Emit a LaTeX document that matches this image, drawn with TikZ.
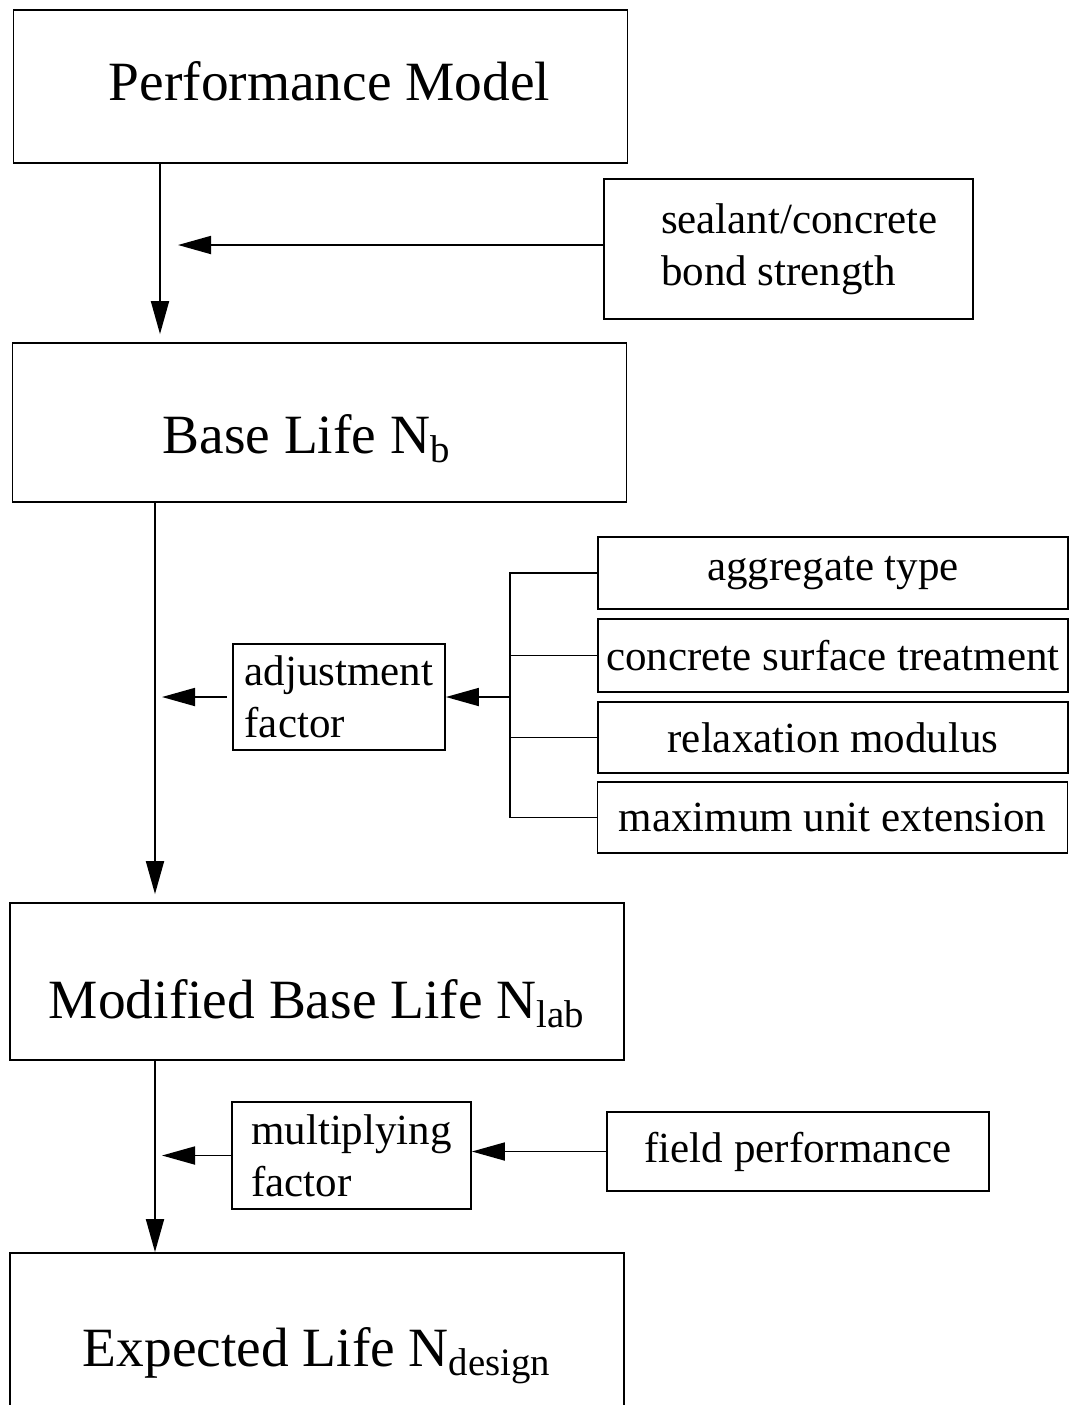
\documentclass[tikz,border=0pt]{standalone}
\usepackage{fontspec}
\setmainfont{Liberation Serif}
\usepackage{tikz}
\usetikzlibrary{arrows.meta}
\tikzset{
    mainbox/.style={draw, inner sep=0pt, minimum width=307pt, text depth=0pt, font=\fontsize{27.7}{33}\selectfont},
    factorbox/.style={draw, inner sep=0pt, align=left, font=\fontsize{21.5}{26}\selectfont},
    inputbox/.style={draw, inner sep=0pt, minimum width=235pt, minimum height=36pt, font=\fontsize{21.5}{26}\selectfont}}

\begin{document}
\begin{tikzpicture}[x=0.5pt, y=-0.5pt, line width=0.9pt, >={Triangle[length=16.5pt, width=9pt]}]
        \useasboundingbox (0,0) rectangle (1070,1405);
        \clip (0,0) rectangle (1070,1405);

                    \node[mainbox, minimum height=76.5pt, text height=13.5pt] (perf) at (320.5,86.5) {\hspace*{9pt}Performance Model};
                    \node[mainbox, minimum height=79.5pt, text height=30.5pt] (base) at (319.5,422.5) {Base Life N\textsubscript{b}\hspace*{13pt}};
                    \node[mainbox, minimum height=78.5pt, text height=36.5pt] (mod) at (317,981.5) {Modified Base Life N\textsubscript{lab}};
                    \node[mainbox, minimum height=97pt, text height=16pt] (exp) at (317,1350) {Expected Life N\textsubscript{design}};

                    \node[factorbox, minimum width=184.5pt, minimum height=70pt, text depth=4pt] (seal) at (788.5,249) {\hspace*{11pt}sealant/concrete\\\hspace*{11pt}bond strength};
                    \node[factorbox, minimum width=106pt, minimum height=53pt] (adj) at (339,697) {adjustment\\factor};
                    \node[factorbox, minimum width=119.5pt, minimum height=53.5pt] (mult) at (351.5,1155.5) {multiplying\\factor};
                    \node[factorbox, minimum width=191pt, minimum height=39.5pt] (field) at (798,1151.5) {field performance};

                    \node[inputbox] (agg) at (833,573) {aggregate type};
                    \node[inputbox, minimum height=36.5pt] (surf) at (833,655.5) {concrete surface treatment};
                    \node[inputbox, minimum height=35.5pt] (relax) at (833,737.5) {relaxation modulus};
                    \node[inputbox, minimum height=35.5pt] (maxext) at (832.5,817.5) {maximum unit extension};

                    \coordinate (topspine) at (160,0);
                    \coordinate (spine) at (155,0);
                    \coordinate (bus) at (510,697);

                    \draw[->, shorten >=4pt] (perf.south -| topspine) -- (base.north -| topspine);
                    \draw[->, shorten >=9pt] ([yshift=2pt]seal.west) -- ([yshift=2pt]seal.west -| topspine);
                    \draw[->, shorten >=4pt] (base.south -| spine) -- (mod.north -| spine);
                    \draw[->, shorten >=3.5pt, shorten <=2.5pt] (adj.west) -- (adj.west -| spine);
                    \draw (agg.west) -- (agg.west -| bus) -- (maxext.west -| bus) -- (maxext.west);
                    \draw (surf.west) -- (surf.west -| bus);
                    \draw (relax.west) -- (relax.west -| bus);
                    \draw[->] (bus) -- (adj.east);
                    \draw[->] (mod.south -| spine) -- (exp.north -| spine);
                    \draw[->, shorten >=3.5pt] (mult.west) -- (mult.west -| spine);
                    \draw[->] (field.west) -- (field.west -| mult.east);

                \end{tikzpicture}
\end{document}
